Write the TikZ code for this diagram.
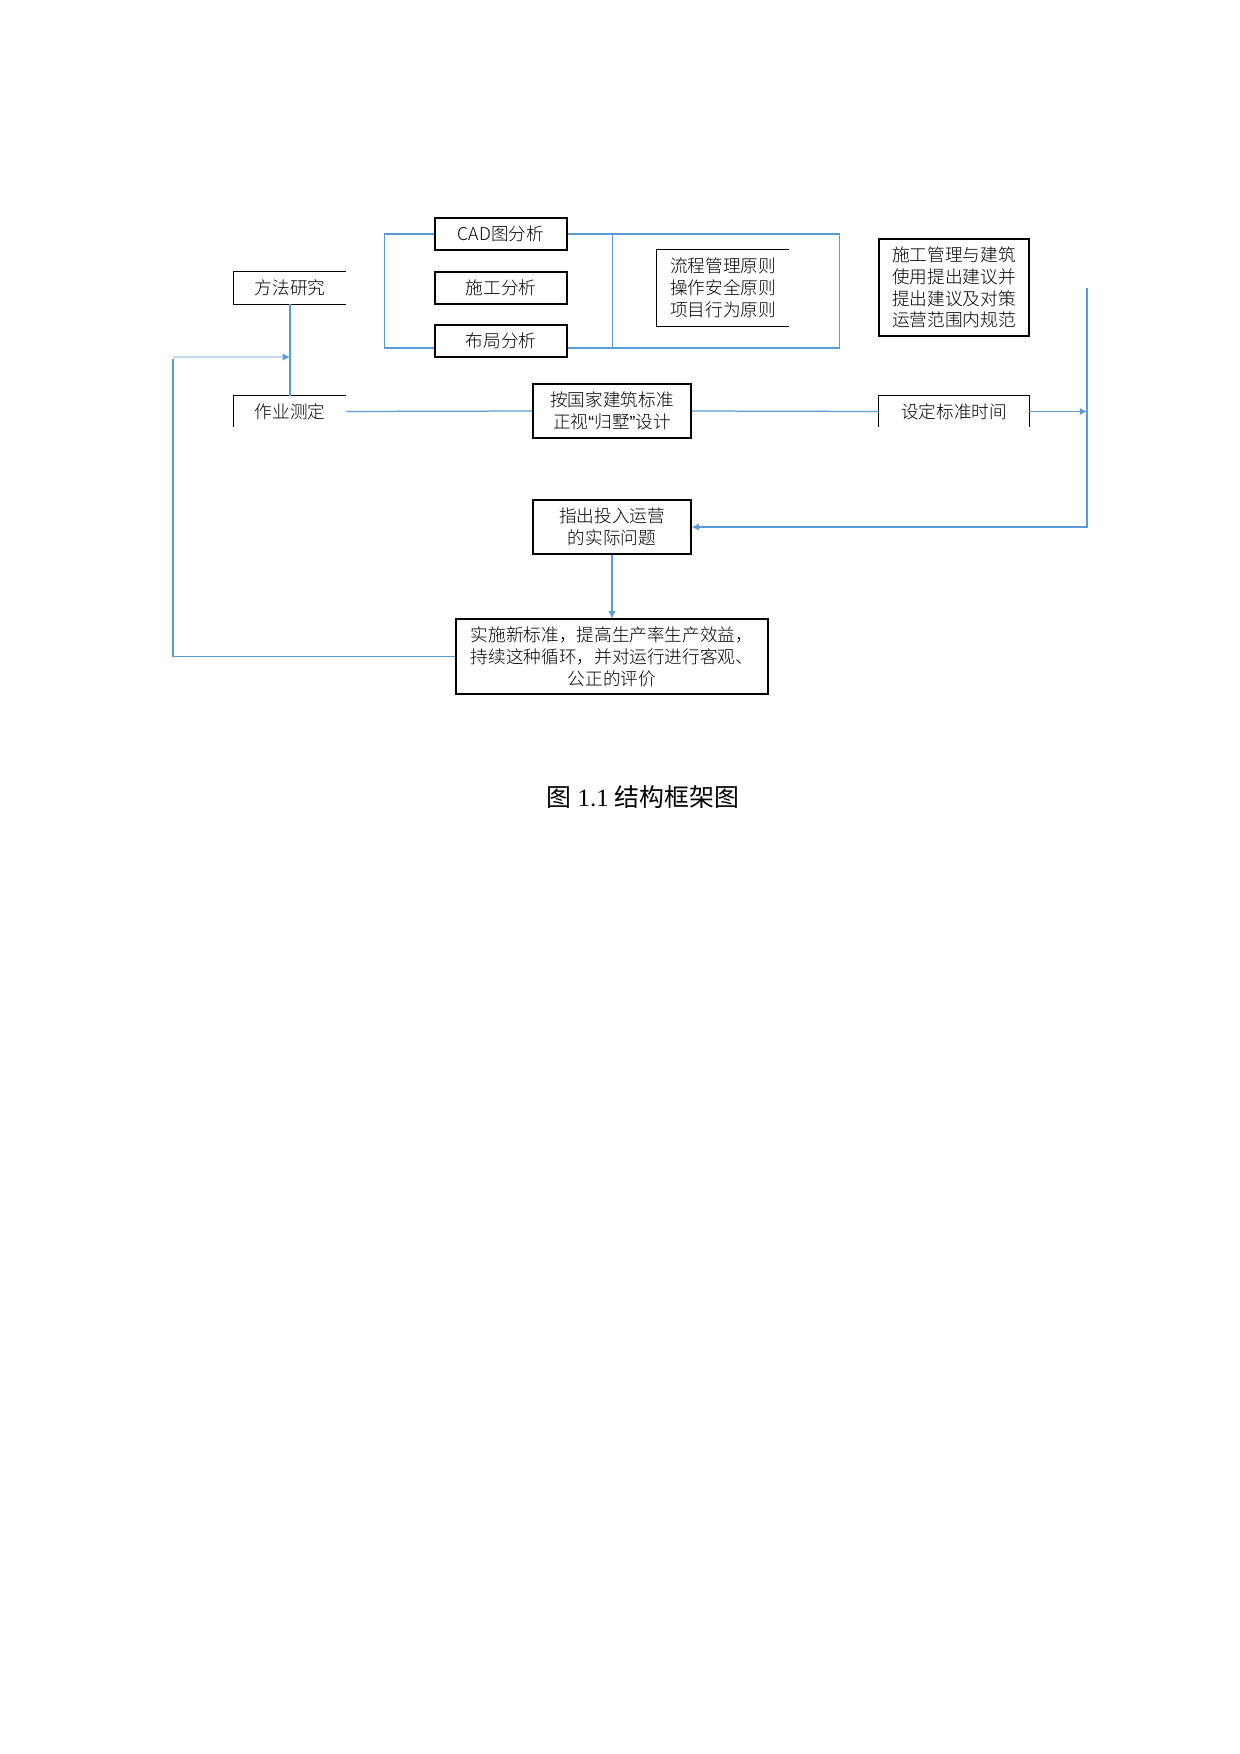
\documentclass[tikz,border=0pt]{standalone}
\usepackage{fontspec}
\usetikzlibrary{arrows.meta}
\setmainfont{Liberation Serif}
\newfontfamily\cjk{Noto Sans CJK SC}[UprightFont = * Light]
\newfontfamily\cjkcap{Noto Sans CJK SC}
\newfontfamily\latin{Liberation Sans}
\definecolor{lineblue}{HTML}{5B9BD5}
\definecolor{paleblue}{HTML}{C5DAEE}

\begin{document}
\begin{tikzpicture}[> = {Latex[length = 3.5pt, width = 3.5pt]}, x = 0.16935mm, y = -0.16935mm,
	box/.style = {inner sep = 0, align = center, font = \cjk\fontsize{8.5}{10.5}\selectfont},
	frame/.style = {draw, line width = 0.5pt},
	rim/.style = {line width = 0.5pt},
	link/.style = {lineblue, line width = 0.6pt}]

	% Definition
	
	\def\Px{0.16935mm}		% One pixel of the page
	
	\useasboundingbox (0, 0) rectangle (1240, 1754);

	% Analysis boxes
	
	\node [box, frame, minimum width = 132*\Px, minimum height = 32*\Px] (cad) at (501, 234) {CAD图分析};
	\node [box, frame, minimum width = 132*\Px, minimum height = 32*\Px] (sgfx) at (501, 288) {施工分析};
	\node [box, frame, minimum width = 132*\Px, minimum height = 32*\Px] (bjfx) at (501, 341) {布局分析};
	
	% Principles and proposals
	
	\node [box, minimum width = 132*\Px, minimum height = 76*\Px, align = left] (yuanze) at (723, 288) {流程管理原则\\操作安全原则\\项目行为原则};
	\draw [rim] (yuanze.north east) -- (yuanze.north west) -- (yuanze.south west) -- (yuanze.south east);
	\node [box, frame, minimum width = 150*\Px, minimum height = 97*\Px, align = left] (jianyi) at (954, 287.5) {施工管理与建筑\\使用提出建议并\\提出建议及对策\\运营范围内规范};

	% Main row
	
	\node [box, minimum width = 112*\Px, minimum height = 32*\Px] (ffyj) at (290, 288) {方法研究};
	\draw [rim] (ffyj.north east) -- (ffyj.north west) -- (ffyj.south west) -- (ffyj.south east);
	\node [box, minimum width = 112*\Px, minimum height = 31*\Px] (zycd) at (290, 411.5) {作业测定};
	\draw [rim] (zycd.north east) -- (zycd.north west) -- (zycd.south west);
	\node [box, frame, minimum width = 158*\Px, minimum height = 54*\Px] (biaozhun) at (612, 411) {按国家建筑标准\\正视{\latin “}归墅{\latin ”}设计};
	\node [box, minimum width = 150*\Px, minimum height = 31*\Px] (sdsj) at (954, 411.5) {设定标准时间};
	\draw [rim] (sdsj.south west) -- (sdsj.north west) -- (sdsj.north east) -- (sdsj.south east);
	
	% Lower boxes
	
	\node [box, frame, minimum width = 158*\Px, minimum height = 54*\Px] (wenti) at (612, 527) {指出投入运营\\的实际问题};
	\node [box, frame, minimum width = 312*\Px, minimum height = 75*\Px] (shishi) at (612, 656.5) {实施新标准，提高生产率生产效益，\\持续这种循环，并对运行进行客观、\\公正的评价};
	
	% Brackets round the analysis boxes
	
	\coordinate (bjL) at ([yshift = -7*\Px] bjfx.west);
	\coordinate (bjR) at ([yshift = -7*\Px] bjfx.east);
	\draw [link] (cad.west) -- ++(-50, 0) |- (bjL);
	\draw [link] (cad.east) -- ++(272, 0) |- (bjR);
	\draw [link] (cad.east) ++(45, 0) -- ++(0, 114);
	
	% Connectors
	
	\coordinate (turn) at (1087, 288);
	\coordinate (back) at (173, 357);
	
	\draw [link] (ffyj.south) -- (zycd.north);
	\draw [link] (zycd.east) -- (biaozhun.west);
	\draw [link] (biaozhun.east) -- (sdsj.west);
	\draw [link, ->] (sdsj.east) -- (sdsj.east -| turn);
	\draw [link, ->] (turn) |- (wenti.east);
	\draw [link, ->] (wenti.south) -- (shishi.north);
	\draw [link] (shishi.west) -| ([yshift = -2*\Px] back);
	\draw [paleblue, line width = 0.6pt, -{Latex[length = 3.5pt, width = 3.5pt, color = lineblue]}] (back) -- (back -| ffyj.south);
	
	% Caption
	
	\node [font = \fontsize{12}{14}\selectfont] (caption) at (643, 797) {{\cjkcap 图} 1.1 {\cjkcap 结构框架图}};

\end{tikzpicture}
\end{document}
